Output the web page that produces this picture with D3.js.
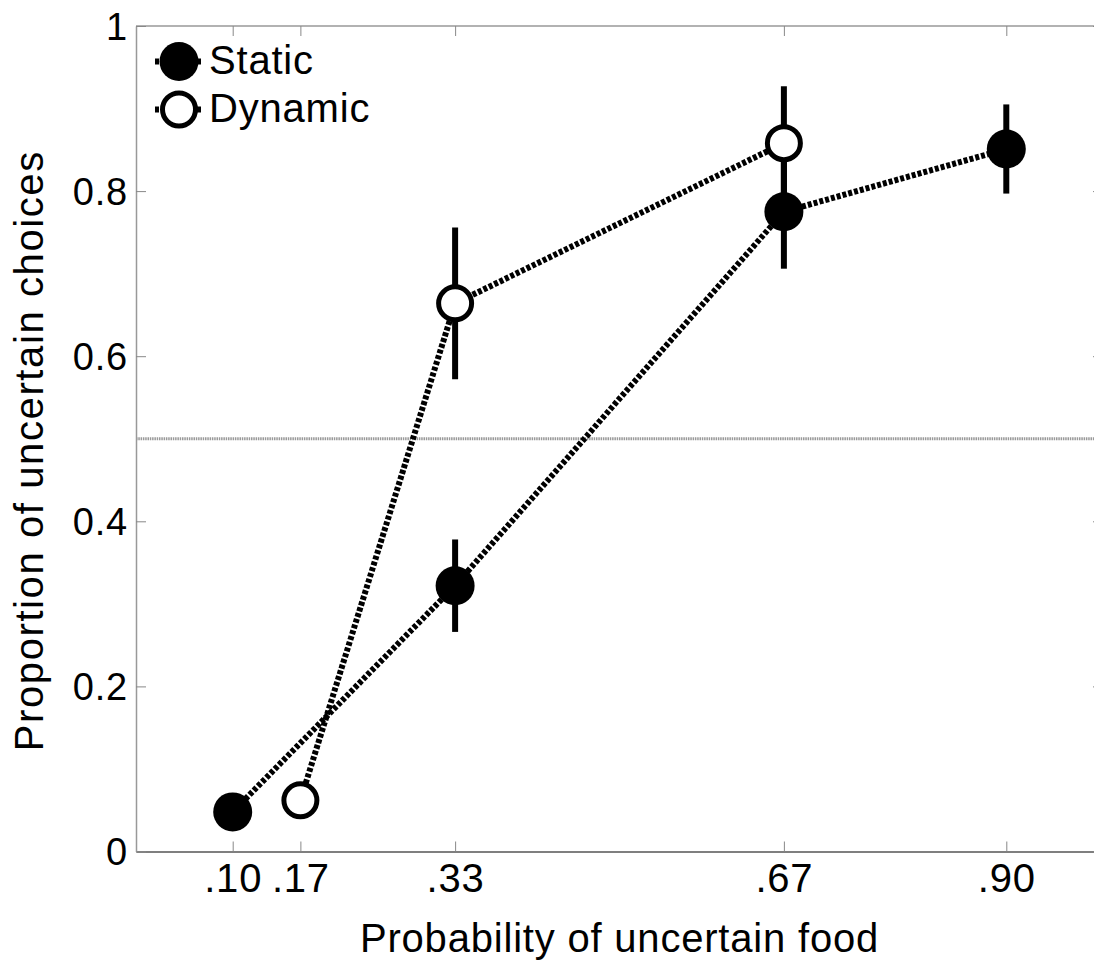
<!DOCTYPE html>
<html>
<head>
<meta charset="utf-8">
<script src="https://cdn.jsdelivr.net/npm/d3@7"></script>
<style>
  html, body { margin: 0; padding: 0; background: #fff; }
  svg { display: block; font-family: "Liberation Sans", Arial, Helvetica, sans-serif; }
</style>
</head>
<body>
<div id="chart"></div>
<script>
// probabilities of the uncertain food (x) and tick labels
const xTicks = [0.10, 0.17, 0.33, 0.67, 0.90];
const xTickLabels = [".10", ".17", ".33", ".67", ".90"];
const yTicks = [0, 0.2, 0.4, 0.6, 0.8, 1];
const yTickLabels = ["0", "0.2", "0.4", "0.6", "0.8", "1"];

// static condition
const staticX = [0.10, 0.33, 0.67, 0.90];
const staticY = [0.048, 0.322, 0.775, 0.851];
const staticErr = [0.01, 0.056, 0.069, 0.054];

// dynamic condition
const dynamicX = [0.17, 0.33, 0.67];
const dynamicY = [0.062, 0.664, 0.858];
const dynamicErr = [0.01, 0.092, 0.069];

const chance = 0.5;

const width = 1094;
const height = 964;
const margin = { top: 26, right: -9, bottom: 112.5, left: 136 };
const chartWidth = width - margin.left - margin.right;
const chartHeight = height - margin.top - margin.bottom;
const font = '"Liberation Sans", Arial, Helvetica, sans-serif';

const svg = d3.select("#chart")
  .append("svg")
  .attr("width", width)
  .attr("height", height)
  .attr("letter-spacing", 0.8);

const chart = svg.append("g")
  .attr("transform", `translate(${margin.left}, ${margin.top})`);

const xScale = d3.scaleLinear([0, 1], [0, chartWidth]);
const yScale = d3.scaleLinear([0, 1], [chartHeight, 0]);

// frame and inward ticks
chart.append("line")
  .attr("x1", 0).attr("x2", chartWidth)
  .attr("y1", 0).attr("y2", 0)
  .attr("stroke", "#999").attr("stroke-width", 1.5);
chart.append("line")
  .attr("x1", chartWidth).attr("x2", chartWidth)
  .attr("y1", 0).attr("y2", chartHeight)
  .attr("stroke", "#999").attr("stroke-width", 1.5);

const xAxis = chart.append("g")
  .attr("transform", `translate(0, ${chartHeight})`)
  .call(d3.axisBottom(xScale).tickValues(xTicks).tickSizeInner(-10).tickSizeOuter(0)
    .tickFormat((d, i) => xTickLabels[i]));
xAxis.select(".domain").attr("stroke", "#555").attr("stroke-width", 1.5);
xAxis.selectAll(".tick line").attr("stroke", "#888");
xAxis.selectAll(".tick text")
  .attr("y", 12)
  .attr("dy", "0.71em")
  .attr("fill", "#000")
  .attr("font-family", font)
  .attr("font-size", 40);

const xTop = chart.append("g")
  .call(d3.axisTop(xScale).tickValues(xTicks).tickSizeInner(-10).tickSizeOuter(0).tickFormat(""));
xTop.select(".domain").remove();
xTop.selectAll(".tick line").attr("stroke", "#888");

const yAxis = chart.append("g")
  .call(d3.axisLeft(yScale).tickValues(yTicks).tickSizeInner(-10).tickSizeOuter(0)
    .tickFormat((d, i) => yTickLabels[i]));
yAxis.select(".domain").attr("stroke", "#999").attr("stroke-width", 1.5);
yAxis.selectAll(".tick line").attr("stroke", "#888");
yAxis.selectAll(".tick text")
  .attr("x", -8)
  .attr("dy", "0.35em")
  .attr("fill", "#000")
  .attr("font-family", font)
  .attr("font-size", 38);

const yRight = chart.append("g")
  .attr("transform", `translate(${chartWidth}, 0)`)
  .call(d3.axisRight(yScale).tickValues(yTicks).tickSizeInner(-10).tickSizeOuter(0).tickFormat(""));
yRight.select(".domain").remove();
yRight.selectAll(".tick line").attr("stroke", "#888");

// chance line
chart.append("line")
  .attr("x1", 0).attr("x2", chartWidth)
  .attr("y1", yScale(chance)).attr("y2", yScale(chance))
  .attr("stroke", "#999")
  .attr("stroke-width", 3)
  .attr("stroke-dasharray", "1.5,0.8");

// axis titles
svg.append("text")
  .attr("x", margin.left + chartWidth / 2)
  .attr("y", 952)
  .attr("text-anchor", "middle")
  .attr("font-size", 40)
  .text("Probability of uncertain food");

svg.append("text")
  .attr("transform", `translate(43, ${margin.top + chartHeight / 2 + 12}) rotate(-90)`)
  .attr("text-anchor", "middle")
  .attr("font-size", 40)
  .attr("letter-spacing", 1.6)
  .text("Proportion of uncertain choices");

// series
const series = [
  { name: "Static", x: staticX, y: staticY, err: staticErr, filled: true },
  { name: "Dynamic", x: dynamicX, y: dynamicY, err: dynamicErr, filled: false },
].map((s) => ({
  ...s,
  points: s.x.map((x, i) => ({ x, y: s.y[i], err: s.err[i] })),
}));

const line = d3.line()
  .x((d) => xScale(d.x))
  .y((d) => yScale(d.y));

const dash = "4,2";

series.forEach((s) => {
  chart.append("path")
    .attr("d", line(s.points))
    .attr("fill", "none")
    .attr("stroke", "#000")
    .attr("stroke-width", 6)
    .attr("stroke-dasharray", dash);

  chart.selectAll(null)
    .data(s.points)
    .enter()
    .append("line")
    .attr("x1", (d) => xScale(d.x))
    .attr("x2", (d) => xScale(d.x))
    .attr("y1", (d) => yScale(d.y - d.err))
    .attr("y2", (d) => yScale(d.y + d.err))
    .attr("stroke", "#000")
    .attr("stroke-width", 6);
});

function drawMarker(sel, filled) {
  return sel
    .attr("r", filled ? 19.5 : 16.5)
    .attr("fill", filled ? "#000" : "#fff")
    .attr("stroke", filled ? "none" : "#000")
    .attr("stroke-width", filled ? 0 : 5);
}

series.forEach((s) => {
  chart.selectAll(null)
    .data(s.points)
    .enter()
    .append("circle")
    .attr("cx", (d) => xScale(d.x))
    .attr("cy", (d) => yScale(d.y))
    .call(drawMarker, s.filled);
});

// legend
const legend = svg.append("g");
series.forEach((s, i) => {
  const cy = 61.5 + i * 48;
  legend.append("line")
    .attr("x1", 155).attr("x2", 203)
    .attr("y1", cy).attr("y2", cy)
    .attr("stroke", "#000")
    .attr("stroke-width", 6)
    .attr("stroke-dasharray", dash);
  legend.append("circle")
    .attr("cx", 179)
    .attr("cy", cy)
    .call(drawMarker, s.filled);
  legend.append("text")
    .attr("x", 209)
    .attr("y", cy + 12.5)
    .attr("font-size", 40)
    .text(s.name);
});
</script>
</body>
</html>
